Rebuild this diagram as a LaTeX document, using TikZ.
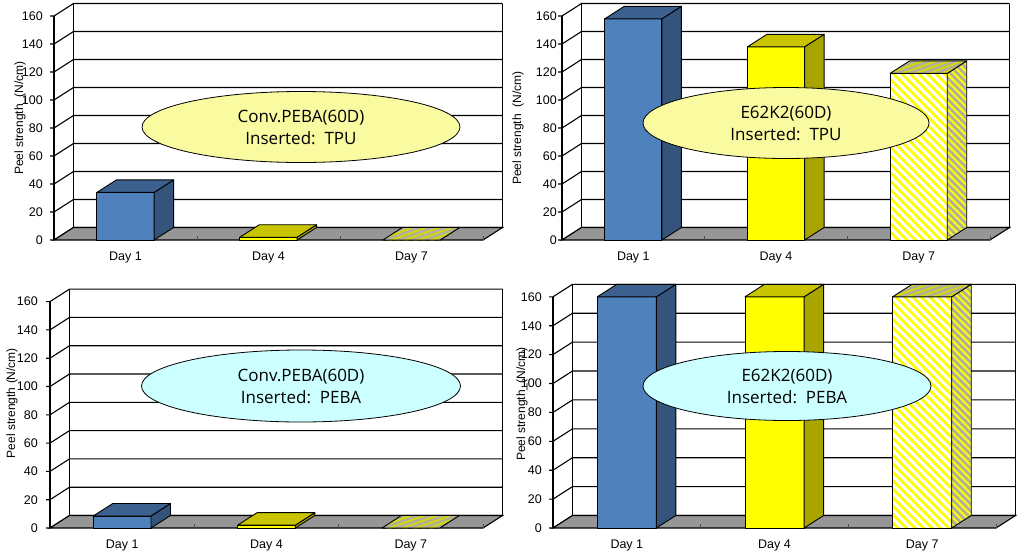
\documentclass[tikz,border=0pt]{standalone}
\usepackage{fontspec}
\setmainfont{Liberation Sans}
\newfontfamily\notefont{Open Sans}
\usetikzlibrary{shapes.geometric,%
                patterns.meta}

\definecolor{BarBlue}{RGB}{79,129,189}
\definecolor{BarBlueTop}{RGB}{60,97,142}
\definecolor{BarBlueSide}{RGB}{52,84,124}
\definecolor{BarYellow}{RGB}{255,255,0}
\definecolor{BarYellowTop}{RGB}{200,196,0}
\definecolor{BarYellowSide}{RGB}{168,164,0}
\definecolor{HatchGray}{RGB}{175,175,160}
\definecolor{FloorGray}{RGB}{150,150,150}
\definecolor{NoteYellow}{RGB}{250,250,160}
\definecolor{NoteCyan}{RGB}{204,255,255}

\newcommand{\DepthX}{19.5}
\newcommand{\DepthY}{-12.5}

\tikzset{
  WallLine/.style={black,line width=1.1pt},
  FloorStyle/.style={fill=FloorGray,draw=black,line width=1.1pt},
  TickMark/.style={black!70,line width=0.8pt},
  TickStyle/.style={font=\fontsize{12.5}{14}\selectfont,inner sep=0pt,anchor=east},
  DayStyle/.style={font=\fontsize{12.5}{14}\selectfont,inner sep=0pt},
  AxisTitle/.style={font=\fontsize{12}{14}\selectfont,inner sep=0pt,rotate=90},
  NoteStyle/.style={ellipse,draw=black,line width=0.8pt,inner sep=0pt,align=center,
                    font=\notefont\fontsize{17}{22}\selectfont},
  BarEdge/.style={draw=black,line width=0.9pt,line join=round},
  BlueFront/.style={BarEdge,fill=BarBlue},
  BlueSide/.style={BarEdge,fill=BarBlueSide},
  BlueTop/.style={BarEdge,fill=BarBlueTop},
  YellowFront/.style={BarEdge,fill=BarYellow},
  YellowSide/.style={BarEdge,fill=BarYellowSide},
  YellowTop/.style={BarEdge,fill=BarYellowTop},
  HatchFront/.style={BarEdge,preaction={fill=white},
                     pattern={Lines[angle=-45,distance=6pt,line width=2.8pt]},pattern color=BarYellow},
  HatchSide/.style={BarEdge,preaction={fill=HatchGray},
                    pattern={Lines[angle=-45,distance=5pt,line width=2pt]},pattern color=BarYellow},
  HatchTop/.style={BarEdge,preaction={fill=HatchGray},
                   pattern={Lines[angle=20,distance=4.5pt,line width=1.8pt]},pattern color=BarYellow!85!black},
}

% back wall, left wall, floor, ticks and day labels of one chart
% #1 name, #2 x of axis, #3 y of zero, #4 x of right end, #5 px per 20, #6 label gap
\newcommand{\ChartFrame}[6]{
  \path[fill=white] (#2+\DepthX,#3+\DepthY) rectangle (#4+\DepthX,#3+\DepthY-8*#5);
  \foreach \k in {0,...,8}{
    \draw[WallLine] (#2-4,#3-\k*#5) -- (#2,#3-\k*#5) -- ++(\DepthX,\DepthY) -- (#4+\DepthX,#3+\DepthY-\k*#5);
    \pgfmathtruncatemacro{\val}{20*\k}
    \node[TickStyle] (#1t\k) at (#2-#6,#3-\k*#5) {\val};
  }
  \draw[WallLine] (#2,#3) -- (#2,#3-8*#5);
  \draw[WallLine] (#2+\DepthX,#3+\DepthY) -- ++(0,-8*#5);
  \draw[WallLine] (#4+\DepthX,#3+\DepthY) -- ++(0,-8*#5);
  \path[FloorStyle] (#2,#3) -- (#4,#3) -- ++(\DepthX,\DepthY) -- (#2+\DepthX,#3+\DepthY) -- cycle;
  \foreach \i in {1,2,3}
    \draw[TickMark] ({#2+\i*(#4-#2)/3},#3) -- ++(0,-4);
  \foreach \d [count=\i] in {1,4,7}
    \node[DayStyle] (#1day\d) at ({#2+(\i-0.5)*(#4-#2)/3},#3+17) {Day \d};
}

% one 3d bar: #1 left x, #2 base y, #3 width, #4 height, #5 front, #6 side, #7 top
\newcommand{\BarBox}[7]{
  \path[#5] (#1,#2) rectangle (#1+#3,#2-#4);
  \path[#6] (#1+#3,#2) -- ++(\DepthX,\DepthY) -- ++(0,-#4) -- (#1+#3,#2-#4) -- cycle;
  \path[#7] (#1,#2-#4) -- (#1+#3,#2-#4) -- ++(\DepthX,\DepthY) -- ++(-#3,0) -- cycle;
}

\begin{document}
\begin{tikzpicture}[x=1pt,y=-1pt]
  \fill[white] (0,0) rectangle (1020,555);
  \useasboundingbox (0,0) rectangle (1020,555);

  % top left
  \ChartFrame{tl}{54}{240}{483}{28}{11}
  \BarBox{96.9}{240}{57.2}{34*1.4}{BlueFront}{BlueSide}{BlueTop}
  \BarBox{239.9}{240}{57.2}{2*1.4}{YellowFront}{YellowSide}{YellowTop}
  \BarBox{382.9}{240}{57.2}{0}{HatchFront}{HatchSide}{HatchTop}
  \node[AxisTitle] (tlaxis) at (20,118) {Peel strength\_(N/cm)};
  \node[NoteStyle,fill=NoteYellow,minimum width=318pt,minimum height=71pt] (tlnote) at (301,127)
    {Conv.PEBA(60D)\\Inserted:\ \ TPU};

  % top right
  \ChartFrame{tr}{562}{240}{990}{28}{5}
  \BarBox{604.8}{240}{57.1}{158*1.4}{BlueFront}{BlueSide}{BlueTop}
  \BarBox{747.5}{240}{57.1}{138*1.4}{YellowFront}{YellowSide}{YellowTop}
  \BarBox{890.1}{240}{57.1}{119*1.4}{HatchFront}{HatchSide}{HatchTop}
  \node[AxisTitle] (traxis) at (518,128) {Peel strength\ \ (N/cm)};
  \node[NoteStyle,fill=NoteYellow,minimum width=286pt,minimum height=71pt] (trnote) at (786,123)
    {E62K2(60D)\\Inserted:\ \ TPU};

  % bottom left
  \ChartFrame{bl}{50}{528}{483}{28.3}{12}
  \BarBox{93.3}{528}{57.7}{8.5*1.415}{BlueFront}{BlueSide}{BlueTop}
  \BarBox{237.6}{528}{57.7}{2*1.415}{YellowFront}{YellowSide}{YellowTop}
  \BarBox{382}{528}{57.7}{0}{HatchFront}{HatchSide}{HatchTop}
  \node[AxisTitle] (blaxis) at (12,403) {Peel strength (N/cm)};
  \node[NoteStyle,fill=NoteCyan,minimum width=319pt,minimum height=72pt] (blnote) at (301,386)
    {Conv.PEBA(60D)\\Inserted:\ \ PEBA};

  % bottom right
  \ChartFrame{br}{553}{528}{996}{28.9}{11}
  \BarBox{597.3}{528}{59.1}{160*1.445}{BlueFront}{BlueSide}{BlueTop}
  \BarBox{745}{528}{59.1}{160*1.445}{YellowFront}{YellowSide}{YellowTop}
  \BarBox{892.6}{528}{59.1}{160*1.445}{HatchFront}{HatchSide}{HatchTop}
  \node[AxisTitle] (braxis) at (522,404) {Peel strength\_(N/cm)};
  \node[NoteStyle,fill=NoteCyan,minimum width=288pt,minimum height=69pt] (brnote) at (787,386)
    {E62K2(60D)\\Inserted:\ \ PEBA};
\end{tikzpicture}
\end{document}
